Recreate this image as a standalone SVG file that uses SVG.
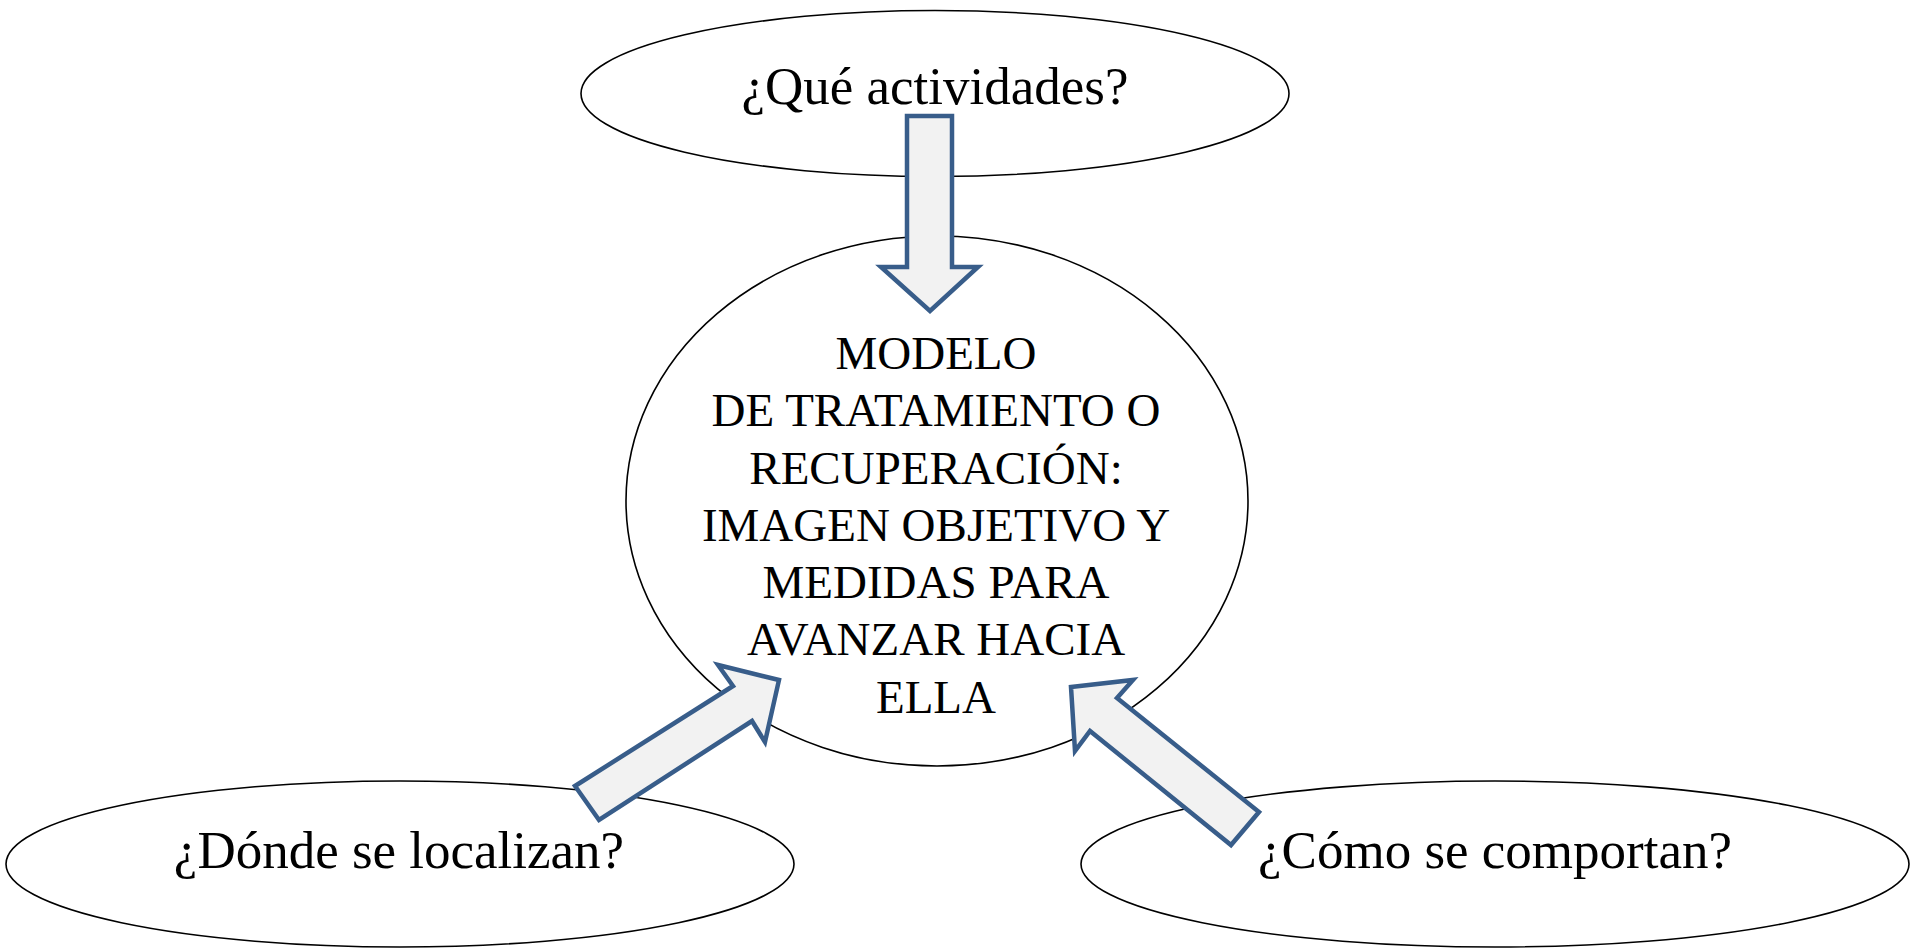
<svg xmlns="http://www.w3.org/2000/svg" width="1911" height="948" viewBox="0 0 1911 948">
<style>
.node ellipse{fill:#ffffff;stroke:#000000;stroke-width:1.6}
text{font-family:'Liberation Serif','Times New Roman','DejaVu Serif',serif;fill:#000000;text-anchor:middle}
.q{font-size:53px}
.c{font-size:47px}
.arrow{fill:#f2f2f2;stroke:#385d8a;stroke-width:4.5;stroke-linejoin:miter}
</style>
<rect width="1911" height="948" fill="#ffffff"/>
<g id="node-top" class="node">
<ellipse cx="935" cy="93.5" rx="354" ry="83"/>
<text class="q" x="935" y="104" font-family="Liberation Serif, serif">¿Qué actividades?</text>
</g>
<g id="node-center" class="node" font-family="Liberation Serif, serif">
<ellipse cx="937" cy="501" rx="311" ry="265"/>
<text class="c" x="936" y="369">MODELO</text>
<text class="c" x="936" y="426">DE TRATAMIENTO O</text>
<text class="c" x="936" y="484">RECUPERACIÓN:</text>
<text class="c" x="936" y="541">IMAGEN OBJETIVO Y</text>
<text class="c" x="936" y="598">MEDIDAS PARA</text>
<text class="c" x="936" y="655">AVANZAR HACIA</text>
<text class="c" x="936" y="713">ELLA</text>
</g>
<g id="node-left" class="node">
<ellipse cx="400" cy="864" rx="394" ry="83"/>
<text class="q" x="399" y="868">¿Dónde se localizan?</text>
</g>
<g id="node-right" class="node">
<ellipse cx="1495" cy="864" rx="414" ry="83"/>
<text class="q" x="1495" y="868">¿Cómo se comportan?</text>
</g>
<g id="connectors">
<path class="arrow" d="M907 116 L952 116 L952 267 L978 267 L930 311 L881 267 L907 267 Z"/>
<path class="arrow" d="M575 786 L733 686 L718 665 L779 680 L765 742 L752 721 L599 820 Z"/>
<path class="arrow" d="M1071 687 L1133 680 L1117 698 L1259 812 L1231 845 L1090 731 L1075 751 Z"/>
</g>
</svg>
